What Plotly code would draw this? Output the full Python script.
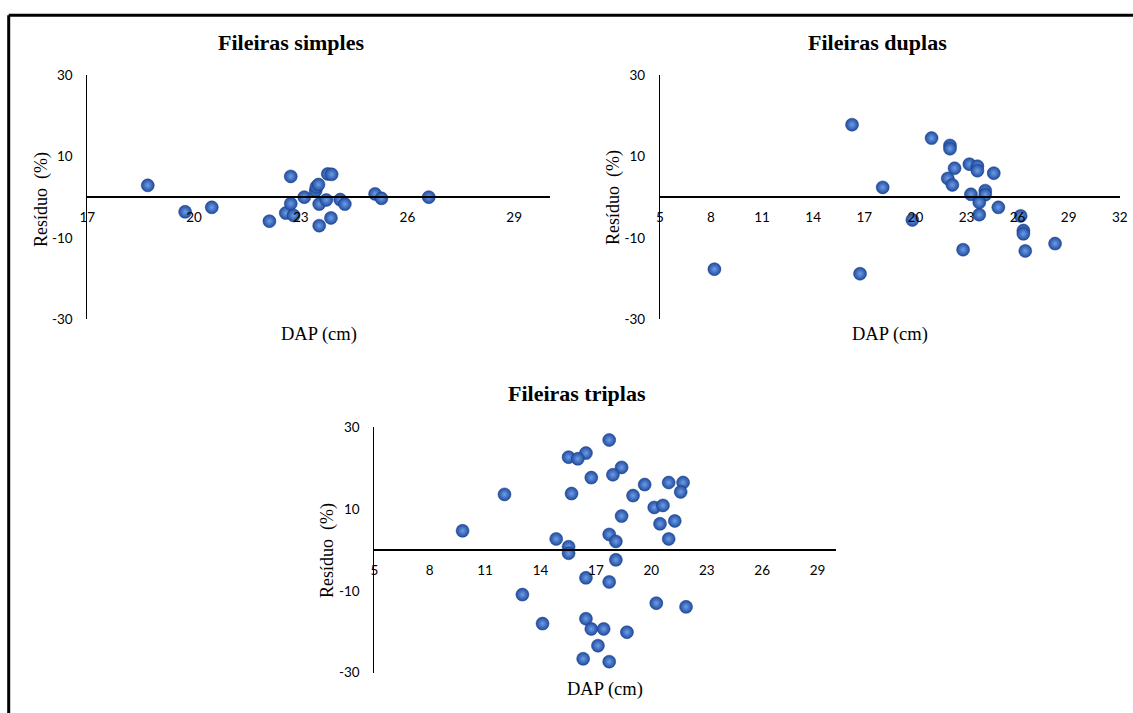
import plotly.graph_objects as go

# ---------------- data ----------------
simples_dap = [18.7, 19.75, 20.5, 22.12, 22.58, 22.72, 22.72, 22.8, 23.1, 23.42, 23.44, 23.5,
               23.52, 23.52, 23.72, 23.76, 23.87, 23.85, 24.11, 24.24, 25.09, 25.27, 26.6]
simples_res = [2.9, -3.6, -2.5, -5.9, -3.9, -1.6, 5.1, -4.5, 0.0, 1.6, 2.5, 3.1,
               -1.7, -7.0, -0.7, 5.7, 5.6, -5.1, -0.6, -1.7, 0.8, -0.3, 0.0]

duplas_dap = [16.28, 20.95, 22.03, 22.03, 23.17, 23.64, 23.64, 22.3, 24.6, 21.9, 22.17, 18.08,
              23.26, 24.1, 24.1, 23.75, 24.87, 23.75, 19.82, 26.18, 26.34, 26.34, 22.8, 26.45,
              28.2, 8.2, 16.75]
duplas_res = [17.8, 14.5, 12.7, 11.9, 8.1, 7.6, 6.5, 7.1, 5.9, 4.6, 3.0, 2.4,
              0.7, 1.6, 0.6, -1.3, -2.5, -4.3, -5.6, -4.6, -8.2, -9.0, -12.9, -13.2,
              -11.4, -17.7, -18.8]

triplas_dap = [17.72, 16.46, 15.52, 16.02, 18.39, 17.92, 16.75, 19.64, 20.94, 21.72, 21.59, 19.01,
               12.05, 15.68, 20.16, 20.63, 18.39, 20.47, 21.27, 9.78, 14.85, 17.72, 18.08, 20.94,
               15.52, 15.52, 18.08, 16.46, 17.72, 13.02, 20.27, 21.88, 16.46, 14.11, 16.75, 17.42,
               18.68, 17.11, 16.31, 17.72]
triplas_res = [26.9, 23.7, 22.7, 22.3, 20.2, 18.4, 17.7, 16.0, 16.5, 16.5, 14.2, 13.3,
               13.6, 13.8, 10.4, 10.9, 8.3, 6.4, 7.1, 4.7, 2.7, 3.8, 2.1, 2.7,
               0.8, -0.8, -2.4, -6.8, -7.8, -10.9, -13.0, -13.9, -16.8, -18.0, -19.3, -19.3,
               -20.1, -23.4, -26.6, -27.3]

titles = ["Fileiras simples", "Fileiras duplas", "Fileiras triplas"]
x_ranges = [(17, 30), (5, 32), (5, 30)]
x_tick0 = [17, 5, 5]
y_ticks = [-30, -10, 10, 30]
y_ticktext = ["-30", "-10", "10", "30"]
x_title = "DAP (cm)"
y_title = "Resíduo  (%)"

# ---------------- layout (page pixels) ----------------
W, H = 1133, 713
# x left/right px, y top/bottom px of each plot area
boxes = [(87.3, 549.7, 75.0, 319.3),
         (659.9, 1119.8, 75.0, 319.3),
         (374.3, 836.0, 427.3, 672.7)]
title_pos = [(290.5, 43), (877.5, 43), (576.5, 393)]
ytitle_pos = [(41, 200), (614, 198), (327, 551)]
xtitle_pos = [(318.5, 335), (890, 335), (605, 689)]

def px(x):
    return x / W

def py(y):
    return 1 - y / H

fig = go.Figure()
series = [(simples_dap, simples_res), (duplas_dap, duplas_res), (triplas_dap, triplas_res)]

annotations = []
for i, ((xs, ys), (xl, xr, yt, yb)) in enumerate(zip(series, boxes)):
    n = "" if i == 0 else str(i + 1)
    fig.add_trace(go.Scatter(
        x=xs, y=ys, mode="markers", xaxis="x" + n, yaxis="y" + n,
        marker=dict(size=13, color="#1f4c9e",
                    gradient=dict(type="radial", color="#6f9de8"),
                    line=dict(width=0.5, color="#1a3f85")),
        showlegend=False, cliponaxis=False))
    ymin, ymax = -30, 30
    y0_px = yt + (yb - yt) * (ymax - 0) / (ymax - ymin)
    fig.layout["xaxis" + n] = dict(
        domain=[px(xl), px(xr)], range=list(x_ranges[i]), anchor="free",
        position=py(y0_px), showline=True, linecolor="black", linewidth=1.5,
        showgrid=False, zeroline=False, tick0=x_tick0[i], dtick=3, ticks="",
        ticklabelstandoff=8, automargin=False,
        tickfont=dict(family="Lato", size=13.5, color="black"))
    fig.layout["yaxis" + n] = dict(
        domain=[py(yb), py(yt)], range=[ymin, ymax], anchor="x" + n,
        showline=True, linecolor="black", linewidth=1,
        showgrid=False, zeroline=False, tickvals=y_ticks, ticktext=y_ticktext, ticks="",
        ticklabelstandoff=11, automargin=False,
        tickfont=dict(family="Lato", size=13.5, color="black"))
    tx, ty = title_pos[i]
    annotations.append(dict(text="<b>" + titles[i] + "</b>", x=px(tx), y=py(ty),
                            xref="paper", yref="paper", showarrow=False,
                            xanchor="center", yanchor="middle",
                            font=dict(family="Liberation Serif", size=22, color="black")))
    ax, ay = ytitle_pos[i]
    annotations.append(dict(text=y_title, x=px(ax), y=py(ay), xref="paper", yref="paper",
                            showarrow=False, textangle=-90,
                            xanchor="center", yanchor="middle",
                            font=dict(family="Liberation Serif", size=18, color="black")))
    bx, by = xtitle_pos[i]
    annotations.append(dict(text=x_title, x=px(bx), y=py(by), xref="paper", yref="paper",
                            showarrow=False, xanchor="center", yanchor="middle",
                            font=dict(family="Liberation Serif", size=18.5, color="black")))

shapes = [
    dict(type="line", xref="paper", yref="paper", x0=px(8.7), x1=1.02, y0=py(15.3), y1=py(15.3),
         line=dict(color="black", width=3)),
    dict(type="line", xref="paper", yref="paper", x0=px(8.7), x1=px(8.7), y0=py(15.3), y1=-0.02,
         line=dict(color="black", width=3)),
]

fig.update_layout(width=W, height=H, margin=dict(l=0, r=0, t=0, b=0, autoexpand=False),
                  paper_bgcolor="white", plot_bgcolor="white",
                  annotations=annotations, shapes=shapes)

fig.write_html("out.html")
